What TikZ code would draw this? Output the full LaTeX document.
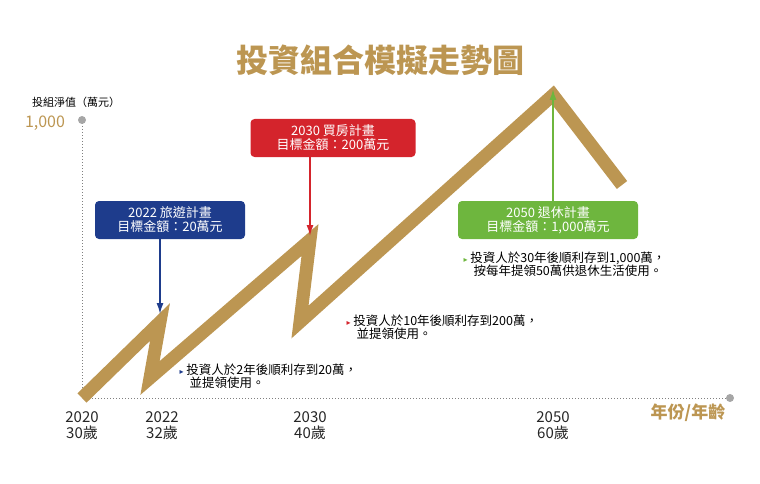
\documentclass[tikz,border=0pt]{standalone}
\usepackage{fontspec}
\setmainfont{Noto Sans CJK TC}
\newfontfamily\symfont{DejaVu Sans}
\usetikzlibrary{arrows.meta}
\definecolor{gold}{RGB}{188,150,82}
\definecolor{navy}{RGB}{30,60,140}
\definecolor{redplan}{RGB}{212,36,44}
\definecolor{greenplan}{RGB}{110,182,62}
\newcommand{\notemark}[1]{\textcolor{#1}{\symfont\fontsize{8}{8}\selectfont▸}}
\begin{document}
\begin{tikzpicture}[x=1pt,y=-1pt,
  planbox/.style={rounded corners=4pt, text=white, align=center, font=\fontsize{13}{14}\selectfont, minimum width=150pt, minimum height=38pt, inner sep=2pt},
  note/.style={align=left, anchor=north west, font=\fontsize{12.5}{13}\selectfont},
  yearlbl/.style={align=center, font=\fontsize{15}{16}\selectfont, text=black!85},
  plan/.style={-{Latex[length=11pt,width=7pt]}, line width=1.5pt}]
\useasboundingbox (0,0) rectangle (760,484);
% title and axes
\node (title) at (380,60) {\fontsize{32}{34}\selectfont\bfseries\color{gold}投資組合模擬走勢圖};
\coordinate (org) at (82,398);
\coordinate (ytop) at (82,120);
\coordinate (xend) at (730,398);
\draw[gray, dotted, line width=1pt] (ytop) -- (org) -- (xend);
\fill[gray!70] (ytop) circle (4pt) (xend) circle (4pt);
\node (ylab) at (76,102) {\fontsize{11}{12}\selectfont 投組淨值（萬元）};
\node (ymax) at (45,123) {\fontsize{16}{17}\selectfont\color{gold}1,000};
\node (xlab) at (688,413) {\fontsize{17}{18}\selectfont\bfseries\color{gold}年份/年齡};
% year labels
\node[yearlbl] (y2020) at (82,426) {2020\\30歲};
\node[yearlbl] (y2022) at (162,426) {2022\\32歲};
\node[yearlbl] (y2030) at (310,426) {2030\\40歲};
\node[yearlbl] (y2050) at (553,426) {2050\\60歲};
% portfolio line
\coordinate (p2022) at (160,322);
\coordinate (p2030) at (310,240);
\coordinate (p2050) at (553,95);
\draw[gold, line width=13pt, line join=miter] (org) -- (p2022) -- (150,378) -- (p2030) -- (300,322) -- (p2050) -- (622,185);
% plans
\node[planbox, fill=navy] (travel) at (170,220) {2022 旅遊計畫\\目標金額：20萬元};
\node[planbox, fill=redplan, minimum width=165pt] (house) at (333,138) {2030 買房計畫\\目標金額：200萬元};
\node[planbox, fill=greenplan, minimum width=180pt] (retire) at (548,220) {2050 退休計畫\\目標金額：1,000萬元};
\draw[plan, navy] (travel.south -| p2022) -- ([yshift=8pt]p2022);
\draw[plan, redplan] (house.south -| p2030) -- ([yshift=4pt]p2030);
\draw[plan, greenplan] (retire.north -| p2050) -- ([yshift=6pt]p2050);
% notes
\node[note] (n1) at (176,360) {\notemark{navy} 投資人於2年後順利存到20萬，\\\hspace*{10pt}並提領使用。};
\node[note] (n2) at (343,311) {\notemark{redplan} 投資人於10年後順利存到200萬，\\\hspace*{10pt}並提領使用。};
\node[note] (n3) at (460,248) {\notemark{greenplan} 投資人於30年後順利存到1,000萬，\\\hspace*{10pt}按每年提領50萬供退休生活使用。};
\end{tikzpicture}
\end{document}
